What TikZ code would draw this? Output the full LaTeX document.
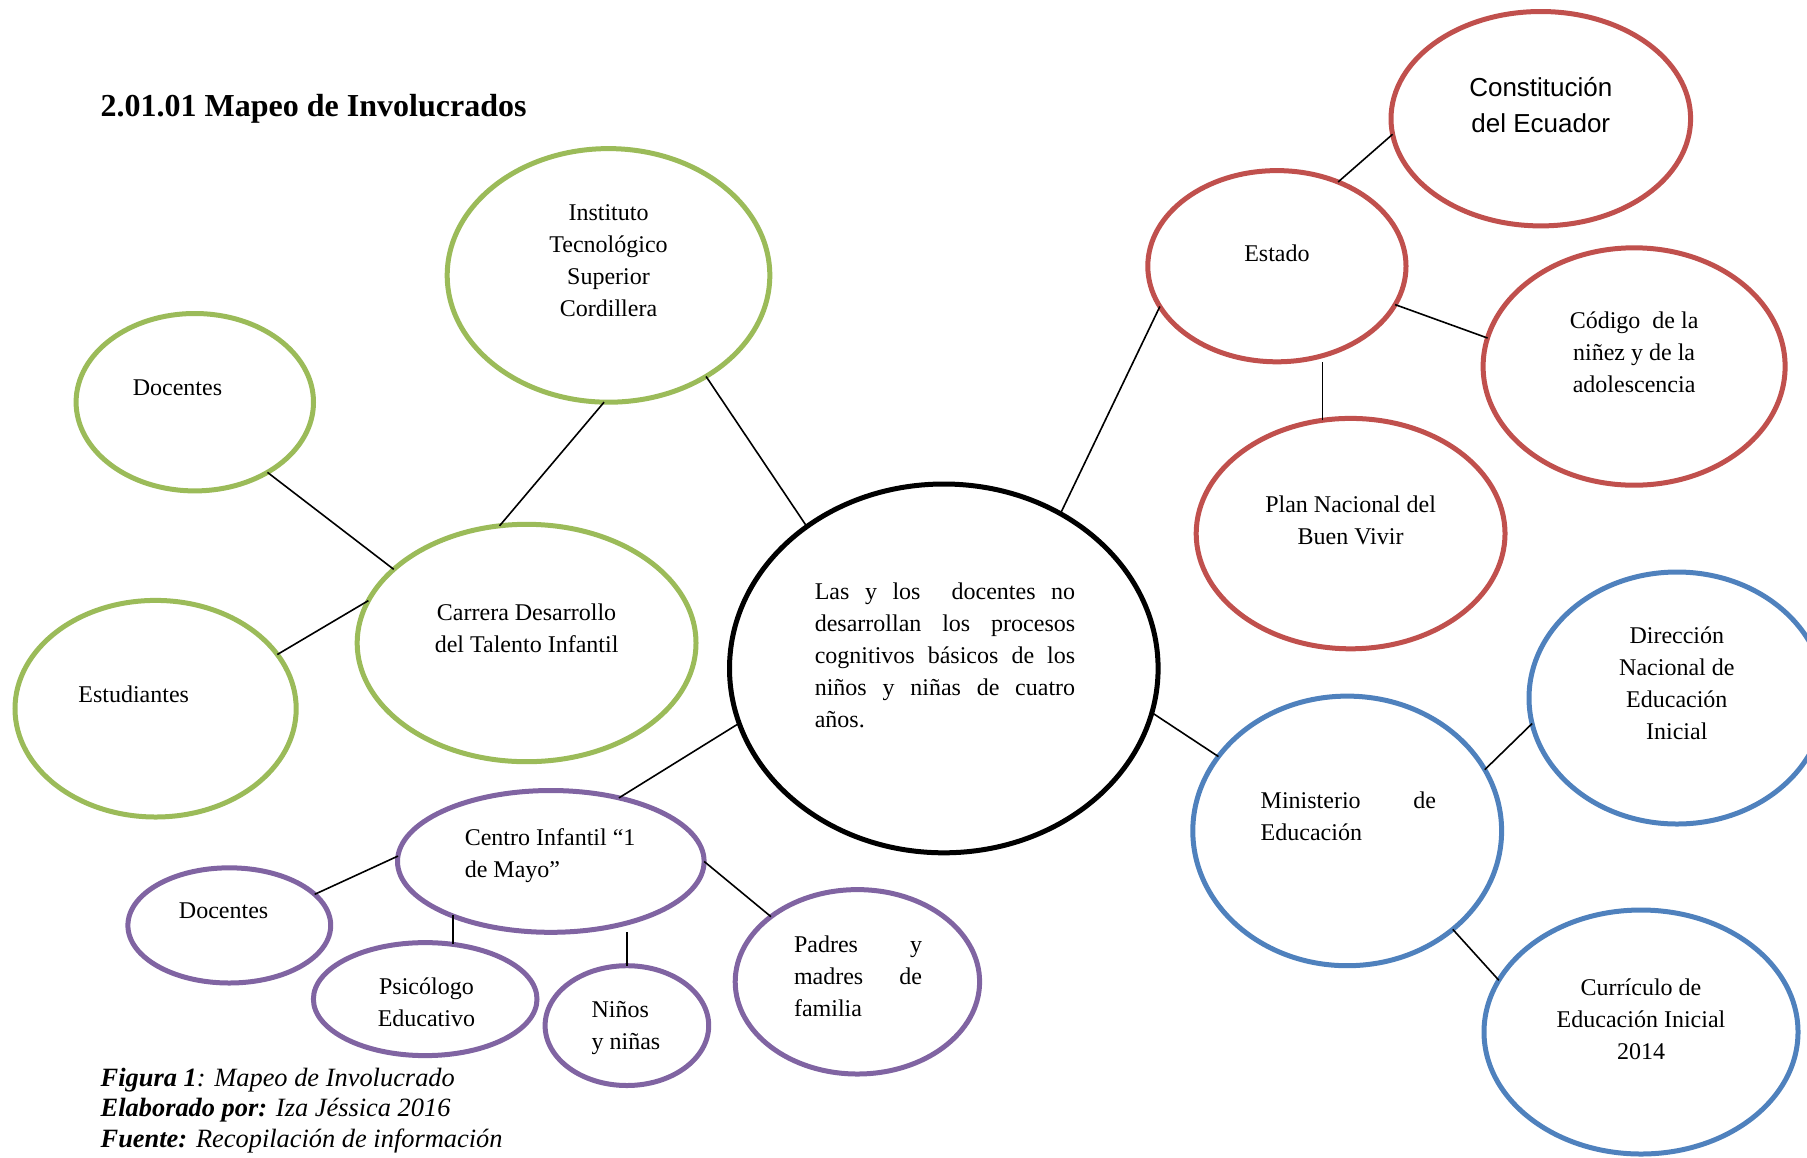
\documentclass[tikz,border=0pt]{standalone}
\usepackage{fontspec}
\setmainfont{Liberation Serif}
\newfontfamily\sansf{Liberation Sans}
\usetikzlibrary{shapes.geometric}
\definecolor{grn}{RGB}{155,187,89}
\definecolor{rd}{RGB}{192,80,77}
\definecolor{blu}{RGB}{79,129,189}
\definecolor{prp}{RGB}{128,100,162}
\tikzset{
  ell/.style 2 args={ellipse, draw, line width=2.5pt, inner sep=0pt, outer sep=0pt,
    minimum width=#1pt, minimum height=#2pt},
  gr/.style={draw=grn}, rr/.style={draw=rd}, br/.style={draw=blu}, pr/.style={draw=prp}, bk/.style={draw=black},
  txt/.style={font=\fontsize{12}{16}\selectfont, inner sep=0pt},
  conn/.style={line width=0.8pt, black}
}
\begin{document}
\begin{tikzpicture}[x=0.5pt,y=-0.5pt]
\useasboundingbox (0,0) rectangle (1807,1157);
% title
\node[anchor=west, inner sep=0pt, font=\fontsize{16}{19}\selectfont\bfseries] (title) at (100.3,108.4) {2.01.01 Mapeo de Involucrados};
% ellipses
\node[ell={161.3}{126.8}, gr] (inst) at (608.5,275.4) {};
\node[ell={118.7}{88.7}, gr] (docg) at (194.8,402.2) {};
\node[ell={169.4}{118.7}, gr] (carr) at (526.6,643.0) {};
\node[ell={140.6}{108.3}, gr] (estu) at (155.6,708.7) {};
\node[ell={214.3}{184.4}, bk] (cent) at (943.8,668.4) {};
\node[ell={153.3}{70.9}, pr] (cinf) at (550.8,861.4) {};
\node[ell={101.4}{57.6}, pr] (docp) at (229.3,925.4) {};
\node[ell={111.8}{56.5}, pr] (psic) at (425.2,999.1) {};
\node[ell={81.8}{59.9}, pr] (nino) at (626.9,1025.6) {};
\node[ell={122.2}{92.2}, pr] (padr) at (857.4,981.8) {};
\node[ell={129.1}{95.6}, rr] (esta) at (1276.9,266.2) {};
\node[ell={149.8}{107.2}, rr] (cons) at (1540.8,118.7) {};
\node[ell={151.0}{118.7}, rr] (codi) at (1634.1,366.5) {};
\node[ell={154.4}{115.2}, rr] (plan) at (1350.6,533.6) {};
\node[ell={148}{126}, br] (dire) at (1677,698) {};
\node[ell={154.4}{134.8}, br] (mini) at (1347.2,830.9) {};
\node[ell={157}{122}, br] (curr) at (1641,1032) {};
% texts
\node[txt, align=center] (tinst) at (608.5,261) {Instituto\\Tecnológico\\Superior\\Cordillera};
\node[txt] (tdocg) at (177.5,388) {Docentes};
\node[txt, align=center] (tcarr) at (526.6,628.6) {Carrera Desarrollo\\del Talento Infantil};
\node[txt] (testu) at (133.7,694.5) {Estudiantes};
\node[txt] (tcent) at (945,655.5) {\begin{minipage}{130.2pt}\setlength{\parindent}{0pt}%
\makebox[\linewidth][s]{Las y los \ docentes no}\par
\makebox[\linewidth][s]{desarrollan los procesos}\par
\makebox[\linewidth][s]{cognitivos básicos de los}\par
\makebox[\linewidth][s]{niños y niñas de cuatro}\par
años.\end{minipage}};
\node[txt, align=left, anchor=west] (tcinf) at (464.4,856) {Centro Infantil “1\\de Mayo”};
\node[txt] (tdocp) at (223.6,911) {Docentes};
\node[txt, align=center] (tpsic) at (426.4,1002.5) {Psicólogo\\Educativo};
\node[txt, align=left, anchor=west] (tnino) at (591.2,1027.5) {Niños\\y niñas};
\node[txt] (tpadr) at (858,976) {\begin{minipage}{64pt}\setlength{\parindent}{0pt}%
\makebox[\linewidth][s]{Padres y}\par
\makebox[\linewidth][s]{madres de}\par
familia\end{minipage}};
\node[txt] (testa) at (1276.9,253) {Estado};
\node[inner sep=0pt, align=center, font=\sansf\fontsize{13}{18}\selectfont] (tcons) at (1540.8,105.5) {Constitución\\del Ecuador};
\node[txt, align=center] (tcodi) at (1634.1,352.5) {Código \ de la\\niñez y de la\\adolescencia};
\node[txt, align=center] (tplan) at (1350.6,520.5) {Plan Nacional del\\Buen Vivir};
\node[txt, align=center] (tdire) at (1676.8,683.3) {Dirección\\Nacional de\\Educación\\Inicial};
\node[txt] (tmini) at (1348.3,816.5) {\begin{minipage}{87.6pt}\setlength{\parindent}{0pt}%
\makebox[\linewidth][s]{Ministerio de}\par
Educación\end{minipage}};
\node[txt, align=center] (tcurr) at (1641,1019.5) {Currículo de\\Educación Inicial\\2014};
% caption
\node[anchor=west, inner sep=0pt, align=left, font=\fontsize{13.2}{15.3}\selectfont\itshape] (capt) at (100.3,1110.5) {\textbf{Figura 1}: Mapeo de Involucrado\\\textbf{Elaborado por:} Iza Jéssica 2016\\\textbf{Fuente:} Recopilación de información};
% connectors
\draw[conn] (docg.-44.6) -- (carr.151.7);
\draw[conn] (estu.24.8) -- (carr.165.3);
\draw[conn] (inst.-92.6) -- (carr.103.2);
\draw[conn] (inst.-46.3) -- (cent.134.3);
\draw[conn] (cent.195.4) -- (cinf.43.4);
\draw[conn] (cinf.178.9) -- (docp.20.6);
\draw[conn] (psic.63.9) -- (psic.63.9 |- cinf.208.6);
\draw[conn] (nino.north) -- (nino.north |- cinf.south);
\draw[conn] (cinf.-0.6) -- (padr.143.9);
\draw[conn] (cent.53.7) -- (esta.199.7);
\draw[conn] (esta.54.2) -- (cons.186.6);
\draw[conn] (esta.-18.9) -- (codi.169.5);
\draw[conn] (plan.104.9) -- (plan.104.9 |- esta.south);
\draw[conn] (cent.-12.5) -- (mini.150.9);
\draw[conn] (mini.24.5) -- (dire.190.7);
\draw[conn] (mini.-43.7) -- (curr.160.5);
\end{tikzpicture}
\end{document}
